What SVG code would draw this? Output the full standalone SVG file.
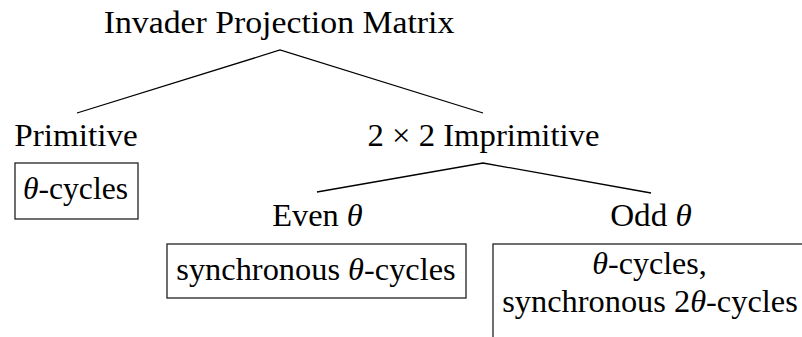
<svg xmlns="http://www.w3.org/2000/svg" width="802" height="337" viewBox="0 0 802 337">
<style>
.box{fill:none;stroke:#222;stroke-width:1.3}
.edge{fill:none;stroke:#000;stroke-width:1.3}
</style>
<rect width="802" height="337" fill="#fff"/>
<g id="connectors">
<polyline class="edge" points="77,113 280,50 483,113"/>
<polyline class="edge" points="317,192 483,163 651,193"/>
</g>
<g id="root">
<text transform="translate(279,33) scale(1.09,1)" font-family="Liberation Serif" font-size="31" text-anchor="middle">Invader Projection Matrix</text>
</g>
<g id="primitive">
<text transform="translate(76,146) scale(1.07,1)" font-family="Liberation Serif" font-size="31" text-anchor="middle">Primitive</text>
</g>
<g id="primitive-box">
<rect class="box" x="15" y="163" width="123" height="56"/>
<text transform="translate(75.5,199) scale(1.02,1)" font-family="Liberation Serif" font-size="31" text-anchor="middle"><tspan font-style="italic">θ</tspan>-cycles</text>
</g>
<g id="imprimitive">
<text transform="translate(483.5,146) scale(1.055,1)" font-family="Liberation Serif" font-size="31" text-anchor="middle">2 × 2 Imprimitive</text>
</g>
<g id="even">
<text transform="translate(317.5,226) scale(1.045,1)" font-family="Liberation Serif" font-size="31" text-anchor="middle">Even <tspan font-style="italic">θ</tspan></text>
</g>
<g id="odd">
<text transform="translate(651,226) scale(1.07,1)" font-family="Liberation Serif" font-size="31" text-anchor="middle">Odd <tspan font-style="italic">θ</tspan></text>
</g>
<g id="even-box">
<rect class="box" x="167" y="244" width="299" height="54"/>
<text transform="translate(316,280) scale(1.045,1)" font-family="Liberation Serif" font-size="31" text-anchor="middle">synchronous <tspan font-style="italic">θ</tspan>-cycles</text>
</g>
<g id="odd-box">
<rect class="box" x="493" y="244" width="314" height="110"/>
<text transform="translate(649.5,274) scale(1.035,1)" font-family="Liberation Serif" font-size="31" text-anchor="middle"><tspan font-style="italic">θ</tspan>-cycles,</text>
<text transform="translate(650,312) scale(1.045,1)" font-family="Liberation Serif" font-size="31" text-anchor="middle">synchronous 2<tspan font-style="italic">θ</tspan>-cycles</text>
</g>
</svg>
